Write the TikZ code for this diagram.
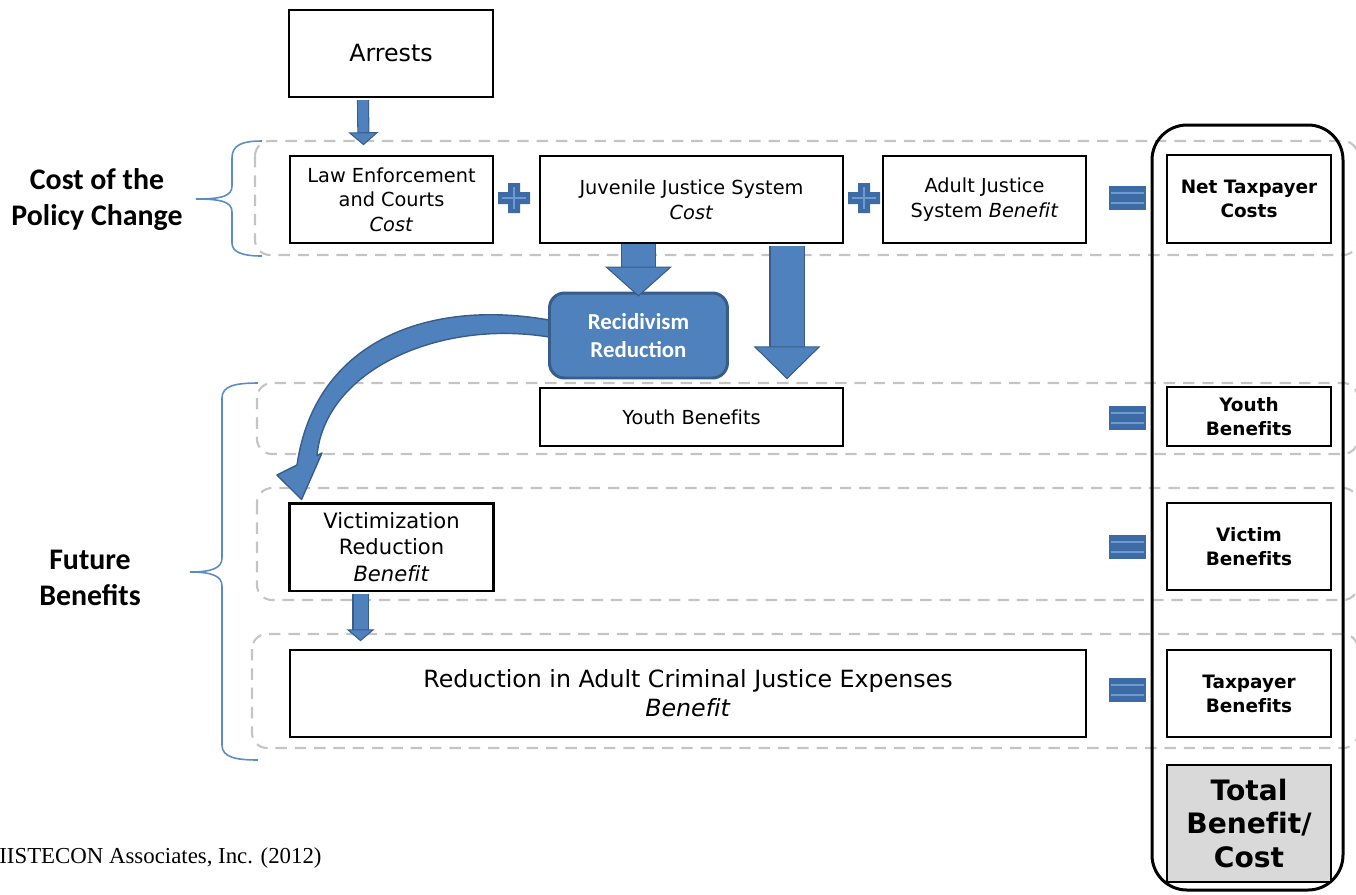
\documentclass[tikz,border=0pt]{standalone}
\usepackage{fontspec}
\setmainfont{DejaVu Sans}[Ligatures=CommonOff]
\newfontfamily\calibfont{Carlito}
\newfontfamily\citefont{Liberation Serif}
\usetikzlibrary{arrows.meta,calc}
\definecolor{arrowblue}{HTML}{4F81BD}
\definecolor{arrowedge}{HTML}{385D8A}
\definecolor{signblue}{HTML}{3D6BA5}
\definecolor{signlight}{HTML}{6E9AD0}
\definecolor{bracecol}{HTML}{5B8CC8}
\definecolor{dashgray}{HTML}{C4C4C4}
\definecolor{totalgray}{HTML}{D9D9D9}
\begin{document}
\begin{tikzpicture}[x=0.02cm, y=-0.02cm,
  box/.style={draw, line width=0.85pt, inner sep=0pt, align=center, font=\fontsize{11}{14}\selectfont},
  sumbox/.style={draw, line width=1.4pt, inner sep=0pt, align=center, minimum width=3.28cm, font=\bfseries\fontsize{10.5}{13.6}\selectfont},
  recbox/.style={fill=arrowblue, draw=arrowedge, line width=1.7pt, rounded corners=0.3cm, inner sep=0pt, align=center, text=white, font=\calibfont\bfseries\fontsize{13}{16}\selectfont},
  grp/.style={draw=dashgray, line width=1.2pt, dash pattern=on 6.5pt off 4.5pt, rounded corners=0.3cm},
  brc/.style={draw=bracecol, line width=0.9pt},
  lbl/.style={align=center, font=\calibfont\bfseries\fontsize{17}{20.5}\selectfont},
  blk/.style args={#1/#2/#3}{draw=arrowblue, line width=#1, -{Triangle[width=#2, length=#3, line width=0.6pt, color=arrowedge, fill=arrowblue]}, preaction={draw=arrowedge, line width=#1+1.2pt, -, shorten >=#3-0.5pt}}
]
\useasboundingbox (0,0) rectangle (1356,894);
\clip (0,0) rectangle (1356,894);
\draw[grp] (255,141) rectangle (1358,255);
\draw[grp] (257,383) rectangle (1358,454);
\draw[grp] (257,488) rectangle (1358,600);
\draw[grp] (252,634) rectangle (1358,748);
\draw[brc] (262,141) .. controls (242,141) and (232,145) .. (232,158) -- (232,186) .. controls (232,196) and (222,199) .. (196,199) .. controls (222,199) and (232,202) .. (232,212) -- (232,243) .. controls (232,252) and (242,256) .. (262,256);
\draw[brc] (258,383) .. controls (235,383) and (222,386) .. (222,398) -- (222,558) .. controls (222,568) and (212,572) .. (190,572) .. controls (212,572) and (222,576) .. (222,586) -- (222,745) .. controls (222,757) and (235,760) .. (258,760);
\draw[line width=1.7pt, rounded corners=0.7cm] (1152,125) rectangle (1343,890);
\node[lbl] (costlbl) at (97,200) {Cost of the\\Policy Change};
\node[lbl] (futlbl) at (90,578) {Future\\Benefits};
\node[anchor=west, inner sep=0pt, font=\citefont\fontsize{13}{15}\selectfont] (cite) at (-1,858) {IISTECON Associates, Inc. (2012)};
\node[box, line width=1.2pt, minimum width=4.08cm, minimum height=1.74cm, font=\fontsize{13.5}{16}\selectfont] (arrests) at (391,53.5) {Arrests};
\node[box, minimum width=4.06cm, minimum height=1.74cm] (lawcost) at (391.5,199.5) {Law Enforcement\\and Courts\\\textit{Cost}};
\node[box, minimum width=6.06cm, minimum height=1.74cm] (juvcost) at (691.5,199.5) {Juvenile Justice System\\\textit{Cost}};
\node[box, minimum width=4.06cm, minimum height=1.74cm] (adultben) at (984.5,199.5) {Adult Justice\\System \textit{Benefit}};
\node[sumbox, minimum height=1.76cm] (nettax) at (1249,199) {Net Taxpayer\\Costs};
\node[box, minimum width=6.06cm, minimum height=1.16cm] (youthben) at (691.5,417) {Youth Benefits};
\node[sumbox, minimum height=1.18cm] (youthtot) at (1249,416.5) {Youth\\Benefits};
\node[box, line width=1.7pt, minimum width=4.1cm, minimum height=1.76cm, font=\fontsize{12}{15}\selectfont] (victred) at (391.5,547) {Victimization\\Reduction\\\textit{Benefit}};
\node[sumbox, minimum height=1.74cm] (victtot) at (1249,546.5) {Victim\\Benefits};
\node[box, minimum width=15.92cm, minimum height=1.74cm, font=\fontsize{13.5}{16.4}\selectfont] (adultred) at (688,693.5) {Reduction in Adult Criminal Justice Expenses\\\textit{Benefit}};
\node[sumbox, minimum height=1.74cm] (taxtot) at (1249,693.5) {Taxpayer\\Benefits};
\node[sumbox, fill=totalgray, minimum height=2.34cm, font=\bfseries\fontsize{16}{19.3}\selectfont] (total) at (1249,823.5) {Total\\Benefit/\\Cost};
\foreach \px in {514,864}{
  \fill[signblue] (\px-6,183) -- (\px+6,183) -- (\px+6,192) -- (\px+16,192) -- (\px+16,204) -- (\px+6,204) -- (\px+6,213) -- (\px-6,213) -- (\px-6,204) -- (\px-16,204) -- (\px-16,192) -- (\px-6,192) -- cycle;
  \draw[signlight, line width=0.8pt] (\px-12,198) -- (\px+12,198) (\px,187) -- (\px,209);
}
\foreach \ey in {198,418,547,690}{
  \fill[signblue] (1109,\ey-12) rectangle (1146,\ey+12);
  \draw[signlight, line width=1.4pt] (1111,\ey-5) -- (1144,\ey-5) (1111,\ey+5) -- (1144,\ey+5);
}
\coordinate (rw) at (548,335.5);
\coordinate (ctip) at ([shift={(14,-2)}]victred.north west);
\filldraw[fill=arrowblue, draw=arrowedge, line width=0.8pt, line join=round] ([shift={(4,-15)}]rw) .. controls (430,298) and (315,340) .. (297,465) -- (277,475) -- (ctip) -- (322,453) -- (317,455.5) .. controls (325,370) and (440,318) .. ([shift={(4,2)}]rw) -- cycle;
\node[recbox, anchor=west, minimum width=3.56cm, minimum height=1.70cm] (recid) at (rw) {Recidivism\\Reduction};
\draw[blk={0.2cm/0.6cm/0.26cm}] ([shift={(-28,2)}]arrests.south) -- ([shift={(-28,-10)}]lawcost.north);
\draw[blk={0.66cm/1.34cm/0.6cm}] (juvcost.south -| recid.north) -- ([shift={(0,5)}]recid.north);
\draw[blk={0.66cm/1.34cm/0.66cm}] ([shift={(95.5,2)}]juvcost.south) -- ([shift={(95.5,-8)}]youthben.north);
\draw[blk={0.28cm/0.56cm/0.24cm}] ([shift={(-31,2)}]victred.south) -- ($(victred.south |- adultred.north)+(-31,-8)$);
\end{tikzpicture}
\end{document}
